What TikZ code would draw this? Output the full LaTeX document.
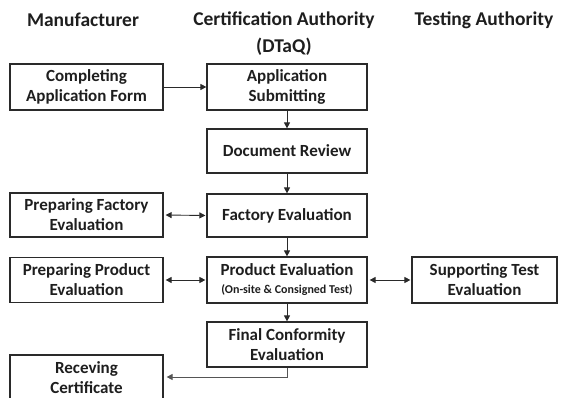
\documentclass[tikz,border=0pt]{standalone}
\usepackage{fontspec}
\setmainfont{Carlito}
\usetikzlibrary{arrows.meta}
\definecolor{ink}{HTML}{1E1E1E}
\definecolor{lineg}{HTML}{2A2A2A}
\definecolor{arrg}{HTML}{555555}
\tikzset{
  box/.style={draw=lineg, line width=1.2pt, inner sep=0pt, align=center, text=ink,
    font=\fontsize{17}{20}\selectfont\bfseries},
  hdr/.style={inner sep=0pt, align=center, text=ink, font=\fontsize{19.5}{27}\selectfont\bfseries},
  arr/.style={draw=lineg, line width=0.9pt, -{Triangle[length=6pt,width=6pt]}},
  darr/.style={draw=lineg, line width=0.9pt, {Triangle[length=6pt,width=6pt]}-{Triangle[length=6pt,width=6pt]}, shorten <=2pt, shorten >=1pt},
}
\begin{document}
\begin{tikzpicture}[x=1pt,y=-1pt]
\useasboundingbox (0,0) rectangle (565,398);
\clip (0,0) rectangle (565,398);
% headers
\node[hdr] (h1) at (83,20) {Manufacturer};
\node[hdr] (h2) at (284,33.5) {Certification Authority\\(DTaQ)};
\node[hdr] (h3) at (484,20) {Testing Authority};
% boxes
\node[box, minimum width=153pt, minimum height=46pt] (comp) at (86.5,87) {Completing\\Application Form};
\node[box, minimum width=160pt, minimum height=46pt] (app) at (287,87) {Application\\Submitting};
\node[box, minimum width=160pt, minimum height=44pt] (doc) at (287,151) {Document Review};
\node[box, minimum width=153pt, minimum height=44pt] (prepf) at (86.5,215) {Preparing Factory\\Evaluation};
\node[box, minimum width=160pt, minimum height=43pt] (fact) at (287,215.5) {Factory Evaluation};
\node[box, minimum width=153pt, minimum height=45pt] (prepp) at (86.5,280) {Preparing Product\\Evaluation};
\node[box, minimum width=160pt, minimum height=46pt] (prod) at (287,280) {Product Evaluation\\[-2pt]{\fontsize{12}{14}\selectfont (On-site \& Consigned Test)}};
\node[box, minimum width=145pt, minimum height=46pt] (supp) at (484.5,280) {Supporting Test\\Evaluation};
\node[box, minimum width=160pt, minimum height=45pt] (final) at (287,344.5) {Final Conformity\\Evaluation};
\node[box, minimum width=153pt, minimum height=46pt] (recv) at (86.5,378) {Receving\\Certificate};
% connectors
\draw[arr] (comp.east) -- (app.west);
\draw[arr] (app.south) -- (doc.north);
\draw[arr] (doc.south) -- (fact.north);
\draw[arr] (fact.south) -- (prod.north);
\draw[arr] (prod.south) -- (final.north);
\draw[darr] (prepf.east) -- (fact.west);
\draw[darr] (prepp.east) -- (prod.west);
\draw[darr] (prod.east) -- (supp.west);
\draw[arr, draw=arrg, shorten >=3pt] (final.south) |- ([yshift=1pt]recv.east);
\end{tikzpicture}
\end{document}
